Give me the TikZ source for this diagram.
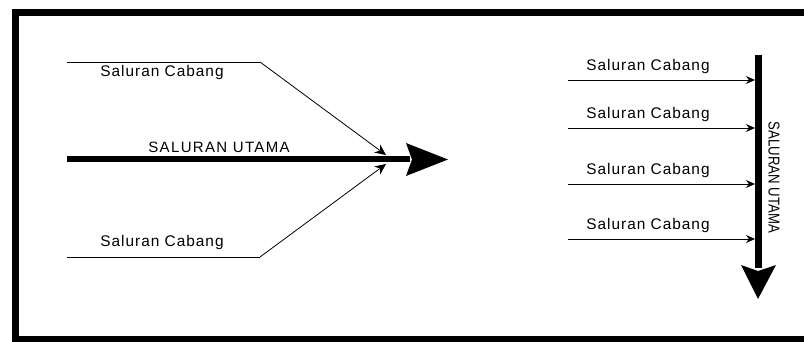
\documentclass[tikz,border=0pt]{standalone}
\usepackage{fontspec}
\setmainfont{Liberation Sans}
\newfontfamily\branchfont[LetterSpace=6.5]{Liberation Sans}
\newfontfamily\trunkfont[LetterSpace=9]{Liberation Sans}
\usetikzlibrary{arrows.meta}

\begin{document}
\begin{tikzpicture}[x=1pt,y=-1pt,
  frame/.style={line width=7pt},
  trunk/.style={line width=5.5pt},
  vtrunk/.style={line width=7pt},
  branch/.style={line width=0.8pt},
  feeder/.style={line width=0.8pt,-{Stealth[length=9pt,width=8pt]}},
  joiner/.style={line width=0.8pt,-{Stealth[length=11pt,width=10pt]}},
  headfill/.style={fill=black},
  branchlabel/.style={inner sep=0pt,font=\fontsize{15.4}{16}\branchfont},
  mainlabel/.style={inner sep=0pt,font=\fontsize{15}{16}\trunkfont}]
\useasboundingbox (0,0) rectangle (804,342);
\clip (0,0) rectangle (804,342);
\fill[white] (0,0) rectangle (804,342);

% outer frame (open towards the right edge)
\draw[frame] (15,12.5) rectangle (840,339);

% ---------- left: branches joining the main channel ----------
\coordinate (t0) at (67,62);
\coordinate (t1) at (260,62);
\coordinate (tj) at (386,155);
\coordinate (b0) at (67,257);
\coordinate (b1) at (260,257);
\coordinate (bj) at (386,164);
\coordinate (m0) at (67,159);
\coordinate (m1) at (410,159);
\coordinate (mtip) at (448,159.5);

\draw[trunk] (m0) -- (m1);
\fill[headfill] (406,143) -- (mtip) -- (406,176) -- (412,159.5) -- cycle;

\draw[branch] (t0) -- (t1);
\draw[joiner] (t1) -- (tj);
\draw[branch] (b0) -- (b1);
\draw[joiner] (b1) -- (bj);

\node[branchlabel] (lt) at (162,73) {Saluran Cabang};
\node[branchlabel] (lb) at (162,243) {Saluran Cabang};
\node[mainlabel] (lm) at (219,147) {SALURAN UTAMA};

% ---------- right: branches feeding a vertical main channel ----------
\coordinate (v0) at (758,55);
\coordinate (v1) at (758,268);
\coordinate (vtip) at (758,299);
\draw[vtrunk] (v0) -- (v1);
\fill[headfill] (741,265) -- (vtip) -- (776,265) -- (758,271) -- cycle;

\foreach \i/\y in {1/80,2/128,3/184,4/239}{
  \coordinate (s\i) at (568,\y);
  \coordinate (e\i) at (755,\y);
  \draw[feeder] (s\i) -- (e\i);
  \node[branchlabel] (c\i) at (648,\y-13) {Saluran Cabang};
}

\node[inner sep=0pt,rotate=-90] (rv) at (774,177.5)
  {\resizebox{111pt}{11pt}{SALURAN UTAMA}};
\end{tikzpicture}
\end{document}
